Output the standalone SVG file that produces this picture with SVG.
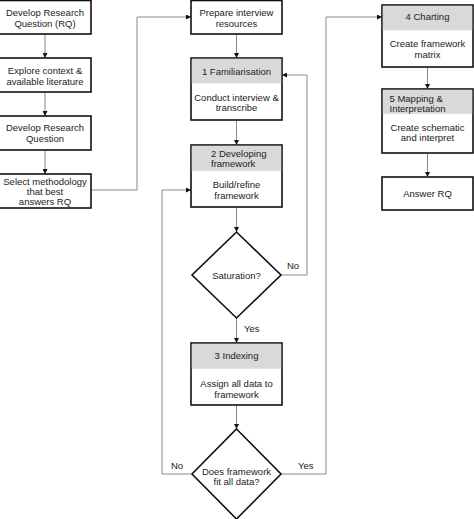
<svg xmlns="http://www.w3.org/2000/svg" width="474" height="519" viewBox="0 0 474 519">
<defs>
<marker id="arr" markerUnits="userSpaceOnUse" markerWidth="5" markerHeight="5" refX="5" refY="2.5" orient="auto">
<path d="M0,0 L5,2.5 L0,5 z" fill="#111"/>
</marker>
<style>
.box{fill:#fff;stroke:#111;stroke-width:1.6}
.hdr{fill:#d9d9d9;stroke:none}
.t{font-family:"Liberation Sans",Arial,sans-serif;font-size:9.5px;fill:#222;text-anchor:middle}
.ts{font-family:"Liberation Sans",Arial,sans-serif;font-size:9.5px;fill:#222;text-anchor:start}
.c{fill:none;stroke:#8a8a8a;stroke-width:1;marker-end:url(#arr)}
</style>
</defs>
<rect width="474" height="519" fill="#fff"/>

<g id="connectors">
<path class="c" d="M45,34 V58"/>
<path class="c" d="M45,92 V116"/>
<path class="c" d="M45,150 V174"/>
<path class="c" d="M91,190 H137 V17 H191"/>
<path class="c" d="M236.5,34 V58"/>
<path class="c" d="M236.5,120 V145"/>
<path class="c" d="M236.5,207 V232"/>
<path class="c" d="M281,275 H307 V75 H282"/>
<path class="c" d="M236.5,318 V343"/>
<path class="c" d="M236.5,405 V429"/>
<path class="c" d="M191.5,474 H162 V190 H191"/>
<path class="c" d="M281,474 H326 V17 H382"/>
<path class="c" d="M427.5,67 V89"/>
<path class="c" d="M427.5,153 V177"/>
<text class="ts" x="287" y="269">No</text>
<text class="ts" x="244" y="332">Yes</text>
<text class="ts" x="171" y="469">No</text>
<text class="ts" x="298" y="469">Yes</text>
</g>

<g id="node-rq">
<rect class="box" x="-2" y="0.5" width="93" height="33.5"/>
<text class="t" x="45" y="15.5">Develop Research</text>
<text class="t" x="45" y="26.5">Question (RQ)</text>
</g>

<g id="node-explore">
<rect class="box" x="-2" y="58" width="93" height="34"/>
<text class="t" x="45" y="74">Explore context &amp;</text>
<text class="t" x="45" y="84.5">available literature</text>
</g>

<g id="node-develop">
<rect class="box" x="-2" y="116" width="93" height="34"/>
<text class="t" x="45" y="131">Develop Research</text>
<text class="t" x="45" y="141.5">Question</text>
</g>

<g id="node-select">
<rect class="box" x="-2" y="174" width="93" height="34"/>
<text class="t" x="45" y="184.5">Select methodology</text>
<text class="t" x="45" y="194.5">that best</text>
<text class="t" x="45" y="204.5">answers RQ</text>
</g>

<g id="node-prepare">
<rect class="box" x="191" y="0.5" width="91" height="33.5"/>
<text class="t" x="236.5" y="16">Prepare interview</text>
<text class="t" x="236.5" y="26.5">resources</text>
</g>

<g id="node-familiarisation">
<rect class="box" x="191" y="58" width="91" height="62"/>
<rect class="hdr" x="191.8" y="58.8" width="89.4" height="24.5"/>
<text class="t" x="236.5" y="74.5">1 Familiarisation</text>
<text class="t" x="236.5" y="100.5">Conduct interview &amp;</text>
<text class="t" x="236.5" y="111">transcribe</text>
</g>

<g id="node-developing">
<rect class="box" x="191" y="145" width="91" height="62"/>
<rect class="hdr" x="191.8" y="145.8" width="89.4" height="25"/>
<text class="ts" x="211" y="156.5">2 Developing</text>
<text class="ts" x="211" y="167">framework</text>
<text class="t" x="236.5" y="188">Build/refine</text>
<text class="t" x="236.5" y="198.5">framework</text>
</g>

<g id="node-saturation">
<path class="box" d="M236.5,232 L281,275 L236.5,318 L192,275 Z"/>
<text class="t" x="236.5" y="278.5">Saturation?</text>
</g>

<g id="node-indexing">
<rect class="box" x="191" y="343" width="91" height="62"/>
<rect class="hdr" x="191.8" y="343.8" width="89.4" height="25"/>
<text class="t" x="236.5" y="358.5">3 Indexing</text>
<text class="t" x="236.5" y="387">Assign all data to</text>
<text class="t" x="236.5" y="397.5">framework</text>
</g>

<g id="node-fit">
<path class="box" d="M236.5,429 L281,474 L236.5,519 L192,474 Z"/>
<text class="t" x="236.5" y="474.5">Does framework</text>
<text class="t" x="236.5" y="485">fit all data?</text>
</g>

<g id="node-charting">
<rect class="box" x="382" y="5" width="91" height="62"/>
<rect class="hdr" x="382.8" y="5.8" width="89.4" height="24.5"/>
<text class="t" x="427.5" y="19.5">4 Charting</text>
<text class="t" x="427.5" y="47">Create framework</text>
<text class="t" x="427.5" y="57.5">matrix</text>
</g>

<g id="node-mapping">
<rect class="box" x="382" y="89" width="91" height="64"/>
<rect class="hdr" x="382.8" y="89.8" width="89.4" height="24"/>
<text class="ts" x="389.5" y="102">5 Mapping &amp;</text>
<text class="ts" x="389.5" y="112">Interpretation</text>
<text class="t" x="427.5" y="130.5">Create schematic</text>
<text class="t" x="427.5" y="141">and interpret</text>
</g>

<g id="node-answer">
<rect class="box" x="382" y="177" width="91" height="33"/>
<text class="t" x="427.5" y="196.5">Answer RQ</text>
</g>
</svg>
